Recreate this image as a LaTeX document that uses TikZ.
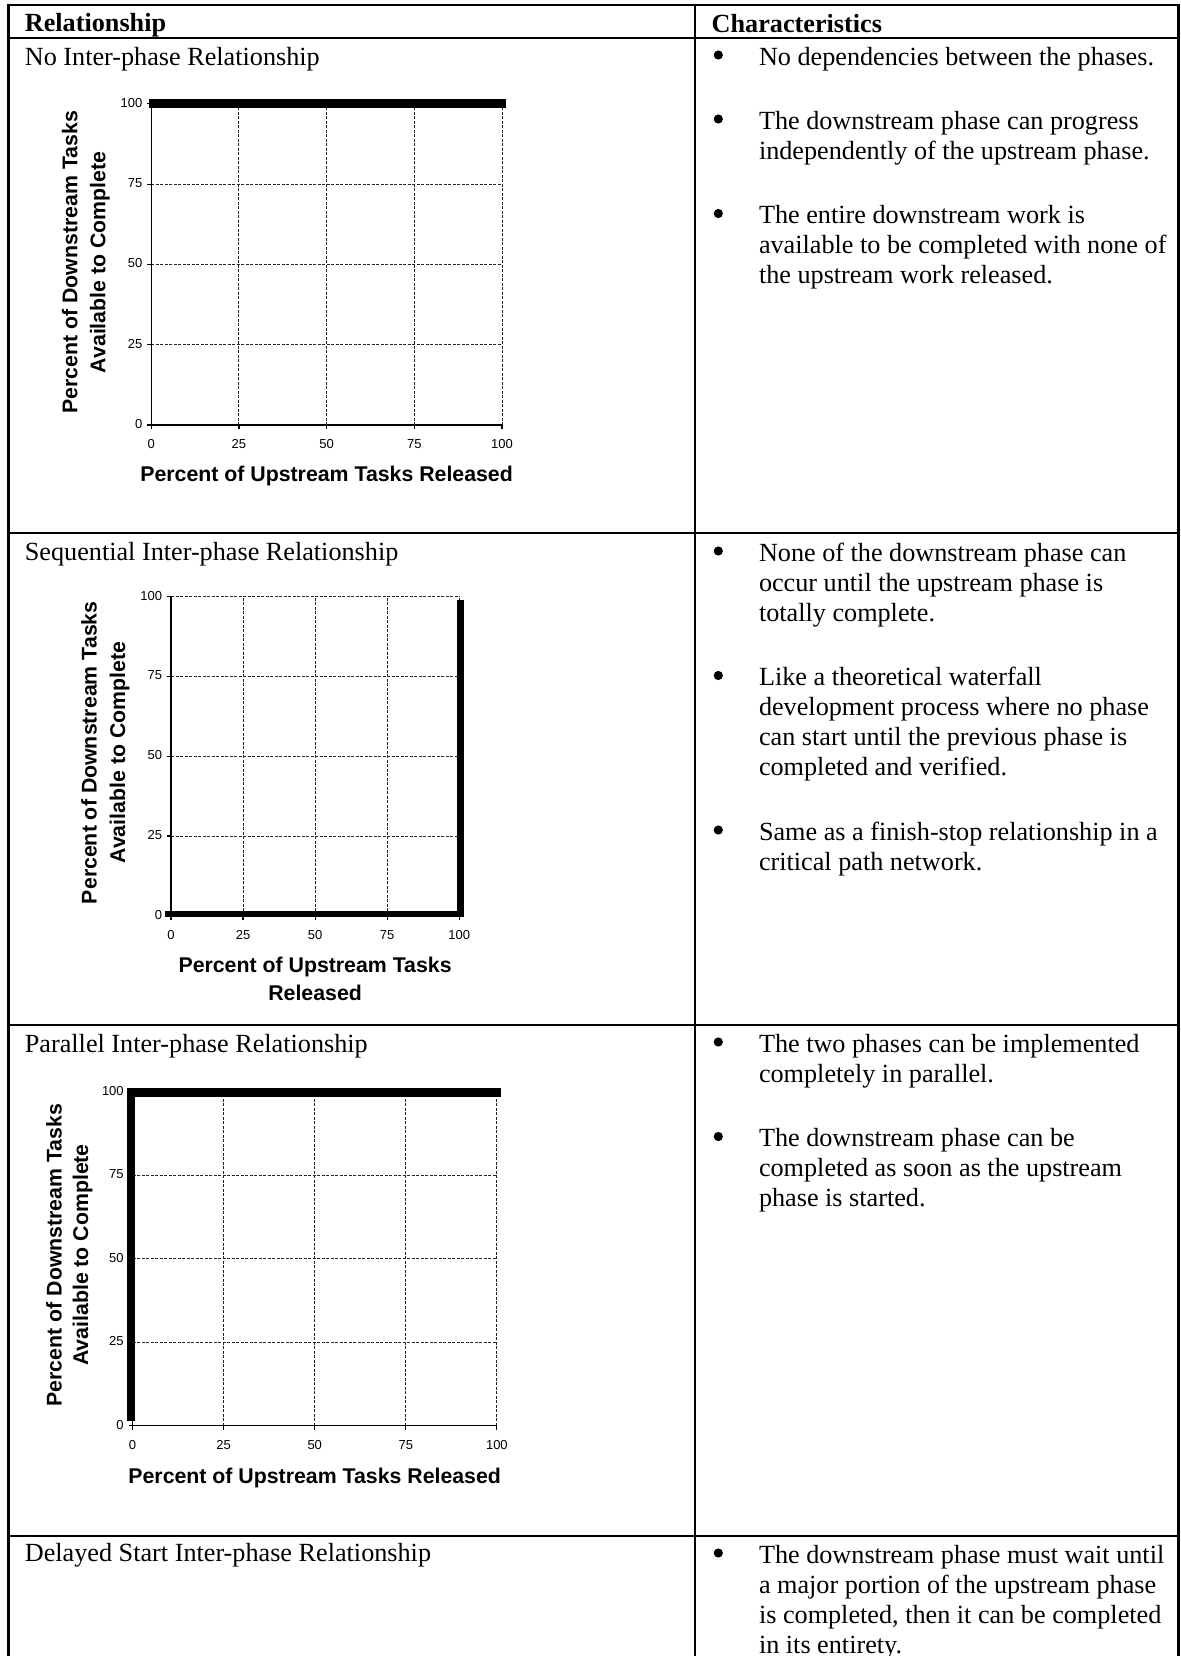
\documentclass[tikz,border=0pt]{standalone}
\usepackage{fontspec}
\setmainfont{Liberation Serif}
\setsansfont{Liberation Sans}

% one bullet paragraph of the right column: name, first baseline, lines
\newcommand\bulletlines[3]{%
  \node[bulletdot] (#1) at (718.3,{#2-10}) {};
  \foreach \ln [count=\k from 0] in {#3}
    \node[body, anchor=base west] (#1-\k) at (759,{#2+30*\k}) {\ln};
}

% chart frame: name, x of 0, y of 0, step per 25 in x, step per 25 in y
\newcommand\chartframe[5]{%
  \foreach \i in {1,...,4} {
    \draw[gridline] ({#2+\i*#4},#3) -- ({#2+\i*#4},{#3-4*#5});
    \draw[gridline] (#2,{#3-\i*#5}) -- ({#2+4*#4},{#3-\i*#5});
  }
  \draw[axisline] (#2,{#3-4*#5}) -- (#2,#3) -- ({#2+4*#4},#3);
  \foreach \i/\v in {0/0,1/25,2/50,3/75,4/100} {
    \draw[axtick] ({#2-4},{#3-\i*#5}) -- (#2,{#3-\i*#5});
    \draw[axtick] ({#2+\i*#4},#3) -- ({#2+\i*#4},{#3+4});
    \node[ticklabel, anchor=east] (#1-y\v) at ({#2-8.5},{#3-\i*#5-1}) {\v};
    \node[ticklabel, anchor=base] (#1-x\v) at ({#2+\i*#4},{#3+23.5}) {\v};
  }
}

\begin{document}
\begin{tikzpicture}[x=0.5pt, y=-0.5pt,
  rule/.style={line width=1.1pt, line cap=rect},
  body/.style={inner sep=0pt, outer sep=0pt, font=\fontsize{13.1}{15}\selectfont},
  head/.style={inner sep=0pt, outer sep=0pt, font=\fontsize{13.1}{15}\selectfont\bfseries},
  bulletdot/.style={circle, fill=black, inner sep=0pt, minimum size=4.6pt},
  gridline/.style={line width=0.45pt, black!85, dash pattern=on 1.5pt off 0.75pt},
  axisline/.style={line width=0.7pt},
  axtick/.style={line width=0.6pt},
  ticklabel/.style={inner sep=0pt, font=\sffamily\fontsize{6.5}{7}\selectfont},
  axtitle/.style={inner sep=0pt, font=\sffamily\bfseries\fontsize{10.65}{13.5}\selectfont},
  series/.style={line width=#1, line cap=butt, line join=miter},
  series/.default=4pt,
]
\useasboundingbox (0,0) rectangle (1180,1656);
\clip (0,0) rectangle (1180,1656);

% table rules
\draw[rule] (8.4,5) -- (1178.5,5);
\draw[rule] (8.4,37.7) -- (1178.5,37.7);
\draw[rule] (8.4,533.3) -- (1178.5,533.3);
\draw[rule] (8.4,1025) -- (1178.5,1025);
\draw[rule] (8.4,1536) -- (1178.5,1536);
\draw[rule] (8.4,5) -- (8.4,1670);
\draw[rule] (695,5) -- (695,1670);
\draw[rule] (1178.5,5) -- (1178.5,1670);

% header
\node[head, anchor=base west] (hrel) at (24.9,31.7) {Relationship};
\node[head, anchor=base west] (hchar) at (711.7,32) {Characteristics};

% row titles
\node[body, anchor=base west] (t1) at (24.9,65) {No Inter-phase Relationship};
\node[body, anchor=base west] (t2) at (24.9,560.5) {Sequential Inter-phase Relationship};
\node[body, anchor=base west] (t3) at (24.9,1052) {Parallel Inter-phase Relationship};
\node[body, anchor=base west] (t4) at (24.9,1561.5) {Delayed Start Inter-phase Relationship};

% characteristics
\bulletlines{c1a}{65}{No dependencies between the phases.}
\bulletlines{c1b}{129}{The downstream phase can progress, independently of the upstream phase.}
\bulletlines{c1c}{223.5}{The entire downstream work is, available to be completed with none of, the upstream work released.}

\bulletlines{c2a}{561}{None of the downstream phase can, occur until the upstream phase is, totally complete.}
\bulletlines{c2b}{685.5}{Like a theoretical waterfall, development process where no phase, can start until the previous phase is, completed and verified.}
\bulletlines{c2c}{840}{Same as a finish-stop relationship in a, critical path network.}

\bulletlines{c3a}{1052}{The two phases can be implemented, completely in parallel.}
\bulletlines{c3b}{1146.5}{The downstream phase can be, completed as soon as the upstream, phase is started.}

\bulletlines{c4a}{1563}{The downstream phase must wait until, a major portion of the upstream phase, {is completed, then it can be completed}, in its entirety.}

% chart: no inter-phase relationship
\chartframe{g1}{151.2}{425}{87.7}{80.3}
\node[axtitle, rotate=90, anchor=base] (g1-yt1) at (77.3,262.4) {Percent of Downstream Tasks};
\node[axtitle, rotate=90, anchor=base] (g1-yt2) at (105.3,262.4) {Available to Complete};
\node[axtitle, anchor=base] (g1-xt) at (326.6,481.5) {Percent of Upstream Tasks Released};
\draw[series=4.5pt] (149.3,103.8) -- (506,103.8);

% chart: sequential inter-phase relationship
\chartframe{g2}{171}{915.7}{72.05}{79.75}
\node[axtitle, rotate=90, anchor=base] (g2-yt1) at (96.7,752.7) {Percent of Downstream Tasks};
\node[axtitle, rotate=90, anchor=base] (g2-yt2) at (125,752.7) {Available to Complete};
\node[axtitle, anchor=base] (g2-xt1) at (315.1,972.7) {Percent of Upstream Tasks};
\node[axtitle, anchor=base] (g2-xt2) at (315.1,1000.5) {Released};
\draw[series=3.1pt] (165.3,913.8) -- (460.5,913.8) -- (460.5,600);

% chart: parallel inter-phase relationship
\chartframe{g3}{132.6}{1425.7}{91.07}{83.5}
\node[axtitle, rotate=90, anchor=base] (g3-yt1) at (61.7,1255) {Percent of Downstream Tasks};
\node[axtitle, rotate=90, anchor=base] (g3-yt2) at (88,1255) {Available to Complete};
\node[axtitle, anchor=base] (g3-xt) at (314.7,1483) {Percent of Upstream Tasks Released};
\draw[series=4.2pt] (131,1420.7) -- (131,1092.5) -- (500.6,1092.5);
\end{tikzpicture}
\end{document}
